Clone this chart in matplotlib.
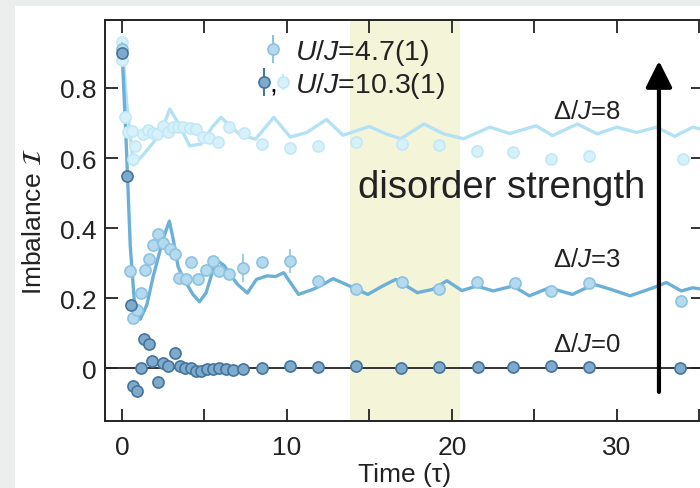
import numpy as np
import matplotlib
matplotlib.use('Agg')
import matplotlib.pyplot as plt
from matplotlib.patches import Rectangle

plt.rcParams['font.family'] = ['Liberation Sans', 'DejaVu Sans']
plt.rcParams['mathtext.fontset'] = 'custom'
plt.rcParams['mathtext.rm'] = 'Liberation Sans'
plt.rcParams['mathtext.it'] = 'Liberation Sans:italic'

# --- data ---
# Delta/J = 0 (dark markers)
t0 = [0, 0.28, 0.53, 0.69, 0.93, 1.13, 1.33, 1.65, 1.82, 2.2, 2.5, 2.8, 3.2, 3.5,
      3.8, 4.16, 4.5, 4.8, 5.17, 5.5, 5.9, 6.3, 6.75, 7.35, 8.5, 10.2, 11.9, 14.2,
      16.9, 19.2, 21.6, 23.7, 26.0, 28.3, 33.8]
y0 = [0.90, 0.55, 0.18, -0.05, -0.065, 0.0, 0.083, 0.07, 0.02, -0.04, 0.016, 0.007,
      0.045, 0.007, 0.002, 0.0, -0.008, -0.006, -0.003, -0.002, 0.001, -0.002, -0.005,
      -0.002, 0.002, 0.006, 0.004, 0.007, 0.0, 0.004, 0.004, 0.003, 0.008, 0.004, 0.002]

# Delta/J = 3 (medium markers)
t3 = [0, 0.48, 0.69, 0.93, 1.13, 1.39, 1.65, 1.86, 2.2, 2.5, 2.9, 3.2, 3.48, 3.88,
      4.2, 4.6, 5.1, 5.5, 5.9, 6.5, 7.35, 8.5, 10.2, 11.9, 14.2, 16.95, 19.2, 21.5,
      23.8, 26.0, 28.3, 33.9]
y3 = [0.91, 0.278, 0.145, 0.166, 0.214, 0.28, 0.311, 0.351, 0.383, 0.359, 0.34, 0.326,
      0.259, 0.254, 0.304, 0.254, 0.28, 0.305, 0.278, 0.27, 0.287, 0.303, 0.306, 0.25,
      0.226, 0.247, 0.226, 0.247, 0.245, 0.221, 0.245, 0.192]
e3 = [0.02, 0.015, 0.01, 0.01, 0.01, 0.01, 0.01, 0.01, 0.015, 0.01, 0.01, 0.01, 0.01,
      0.01, 0.015, 0.01, 0.01, 0.01, 0.01, 0.01, 0.04, 0.01, 0.035, 0.01, 0.01, 0.01,
      0.01, 0.01, 0.01, 0.01, 0.01, 0.01]

# Delta/J = 8 (light markers)
t8 = [0, 0, 0.18, 0.38, 0.59, 0.69, 0.79, 1.3, 1.6, 1.85, 2.1, 2.5, 2.8, 3.1, 3.4,
      3.7, 4.1, 4.5, 4.9, 5.3, 5.8, 6.5, 7.4, 8.5, 10.2, 11.9, 14.2, 16.95, 19.2, 21.5,
      23.7, 26.0, 28.3, 34.0]
y8 = [0.93, 0.88, 0.716, 0.673, 0.678, 0.597, 0.635, 0.668, 0.68, 0.67, 0.669, 0.69,
      0.675, 0.688, 0.688, 0.688, 0.686, 0.683, 0.66, 0.658, 0.645, 0.688, 0.67, 0.64,
      0.63, 0.635, 0.645, 0.64, 0.637, 0.621, 0.616, 0.597, 0.607, 0.597]

# theory curves
L3t = [0, 0.25, 0.5, 0.75, 1.1, 1.5, 1.9, 2.5, 2.87, 3.1, 3.4, 3.7, 4.3, 4.7, 5.1,
       5.5, 5.8, 6.2, 6.6, 7.0, 7.6, 8.15, 8.8, 9.3, 9.8, 10.7, 11.6, 12.2, 12.8, 13.8,
       14.9, 15.8, 16.6, 17.9, 18.8, 19.7, 20.6, 21.5, 22.5, 23.7, 24.7, 25.9, 27.3,
       28.6, 29.6, 30.8, 32.2, 33.0, 33.9, 34.6, 35.3]
L3y = [0.91, 0.65, 0.35, 0.19, 0.14, 0.18, 0.264, 0.37, 0.42, 0.37, 0.29, 0.259,
       0.211, 0.19, 0.216, 0.278, 0.307, 0.293, 0.265, 0.24, 0.215, 0.254, 0.264,
       0.262, 0.273, 0.211, 0.226, 0.24, 0.256, 0.235, 0.211, 0.235, 0.254, 0.216,
       0.225, 0.25, 0.222, 0.235, 0.221, 0.235, 0.207, 0.23, 0.211, 0.24, 0.226,
       0.207, 0.23, 0.245, 0.221, 0.23, 0.225]

L8t = [0, 0.3, 0.7, 1.3, 2.0, 2.5, 2.9, 3.4, 4.1, 4.8, 5.5, 6.0, 6.6, 7.2, 8.1, 9.2,
       10.2, 11.2, 12.4, 13.4, 15.0, 16.0, 16.9, 18.3, 19.5, 20.7, 22.3, 23.5, 25.1,
       26.1, 27.6, 28.8, 30.0, 31.2, 32.4, 33.5, 34.6, 35.3]
L8y = [0.93, 0.75, 0.58, 0.61, 0.65, 0.69, 0.74, 0.70, 0.635, 0.64, 0.69, 0.716,
       0.69, 0.665, 0.654, 0.716, 0.66, 0.673, 0.71, 0.665, 0.69, 0.669, 0.655, 0.697,
       0.669, 0.655, 0.688, 0.67, 0.692, 0.664, 0.697, 0.669, 0.688, 0.673, 0.688,
       0.662, 0.688, 0.68]

band = (13.8, 20.5)
yticks = [0, 0.2, 0.4, 0.6, 0.8]
ytick_labels = ['0', '0.2', '0.4', '0.6', '0.8']

c_dark_f, c_dark_e = '#7eaacb', '#45749e'
c_med_f, c_med_e, c_med_l = '#b5d9ed', '#8cc3e2', '#6cb0d8'
c_lt_f, c_lt_e, c_lt_l = '#d6f1fa', '#c2e8f6', '#b3e2f4'

fig = plt.figure(figsize=(7, 4.89), dpi=100)
fig.patch.set_facecolor('#eceeee')
fig.add_artist(Rectangle((15 / 700, 0), 1, 1 - 7 / 489, transform=fig.transFigure,
                         facecolor='white', edgecolor='none', zorder=-1))
ax = fig.add_axes([0.15, 0.137, 0.855, 0.821])

ax.axvspan(*band, color='#f4f4d9', zorder=0, lw=0)
ax.axhline(0, color='#333333', lw=1.4, zorder=1)

ax.plot(L8t, L8y, color=c_lt_l, lw=2.4, zorder=2, solid_joinstyle='round')
ax.plot(L3t, L3y, color=c_med_l, lw=2.4, zorder=3, solid_joinstyle='round')

ms = 8
ax.errorbar(t8, y8, yerr=0.01, fmt='o', ms=ms, mfc=c_lt_f, mec=c_lt_e, mew=1.2,
            ecolor=c_lt_e, elinewidth=1, zorder=4)
ax.errorbar(t3, y3, yerr=e3, fmt='o', ms=ms, mfc=c_med_f, mec=c_med_e, mew=1.2,
            ecolor=c_med_e, elinewidth=1.2, zorder=5)
ax.errorbar(t0, y0, yerr=0.01, fmt='o', ms=ms, mfc=c_dark_f, mec=c_dark_e, mew=1.2,
            ecolor=c_dark_e, elinewidth=1, zorder=6)

# arrow
ax.annotate('', xy=(32.55, 0.885), xytext=(32.55, -0.075),
            arrowprops=dict(arrowstyle='-|>,head_length=0.8,head_width=0.4',
                            lw=3, color='black', mutation_scale=20), zorder=7)
ax.text(23.0, 0.489, 'disorder strength', fontsize=27.5, ha='center', va='baseline',
        color='#222222')

for yb, lab in [(0.714, '8'), (0.292, '3'), (0.049, '0')]:
    ax.text(28.2, yb, 'Δ/$J$=' + lab, fontsize=18.5, ha='center', va='baseline',
            color='#222222')

# legend
tr = ax.transAxes
ax.errorbar([0.281], [0.927], yerr=0.035, fmt='o', ms=ms, mfc=c_med_f, mec=c_med_e,
            mew=1.2, ecolor=c_med_e, transform=tr, clip_on=False, zorder=8)
ax.errorbar([0.265], [0.845], yerr=0.035, fmt='o', ms=ms, mfc=c_dark_f, mec=c_dark_e,
            mew=1.2, ecolor=c_dark_e, transform=tr, clip_on=False, zorder=8)
ax.errorbar([0.298], [0.845], yerr=0.02, fmt='o', ms=ms, mfc=c_lt_f, mec=c_lt_e,
            mew=1.2, ecolor=c_lt_e, transform=tr, clip_on=False, zorder=8)
ax.text(0.275, 0.82, ',', transform=tr, fontsize=20, ha='left', va='baseline')
ax.text(0.318, 0.902, '$U$/$J$=4.7(1)', transform=tr, fontsize=20.5, va='baseline',
        color='#222222')
ax.text(0.318, 0.820, '$U$/$J$=10.3(1)', transform=tr, fontsize=20.5, va='baseline',
        color='#222222')

ax.set_xlim(-1.03, 35.25)
ax.set_ylim(-0.15, 0.995)
ax.set_xticks([0, 10, 20, 30])
ax.set_xticks([5, 15, 25, 35], minor=True)
ax.set_yticks(yticks)
ax.set_yticklabels(ytick_labels)
ax.tick_params(which='both', direction='in', top=True, right=True, length=9,
               width=1.3, labelsize=19, colors='#222222')
ax.tick_params(axis='x', pad=10)
ax.tick_params(axis='y', pad=6)
for s in ax.spines.values():
    s.set_linewidth(1.4)
    s.set_color('#222222')

ax.set_xlabel('Time (τ)', fontsize=19, labelpad=2, color='#222222')
ax.set_ylabel(r'Imbalance $\mathcal{I}$', fontsize=19, labelpad=10, color='#222222',
              math_fontfamily='stix')

fig.savefig('out.png', dpi=100, facecolor=fig.get_facecolor())
